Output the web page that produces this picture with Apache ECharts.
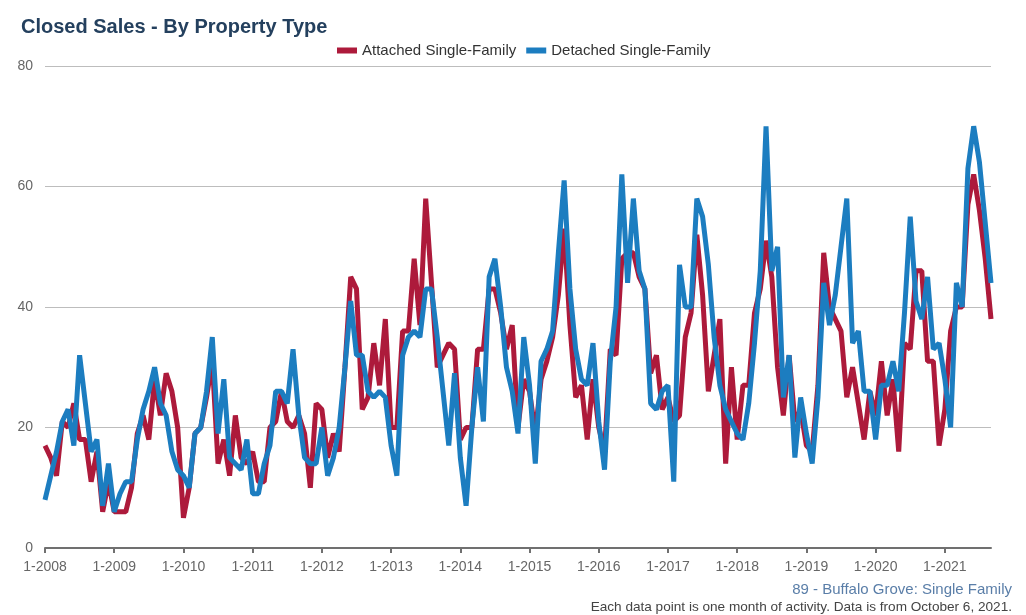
<!DOCTYPE html>
<html>
<head>
<meta charset="utf-8">
<title>Closed Sales - By Property Type</title>
<script src="https://cdn.jsdelivr.net/npm/echarts@6/dist/echarts.min.js"></script>
<style>
  html, body { margin: 0; padding: 0; background: #fff; }
  #chart { width: 1026px; height: 615px; }
</style>
</head>
<body>
<div id="chart"></div>
<script>
// monthly labels, Jan 2008 .. Sep 2021
var months = [];
for (var y = 2008; y <= 2021; y++) {
    for (var m = 1; m <= 12; m++) {
        if (y === 2021 && m > 9) break;
        months.push(m + '-' + y);
    }
}

// Attached Single-Family, one value per month
var attached = [
    17, 15, 12, 21, 20, 24, 18, 18, 11, 16, 6, 11,   // 2008
    6, 6, 6, 10, 19, 22, 18, 28, 22, 29, 26, 20,     // 2009
    5, 10, 19, 20, 25, 31, 14, 18, 12, 22, 15, 14,   // 2010
    16, 11, 11, 20, 21, 26, 21, 20, 22, 19, 10, 24,  // 2011
    23, 15, 19, 16, 30, 45, 43, 23, 25, 34, 27, 38,  // 2012
    20, 20, 36, 36, 48, 37, 58, 44, 30, 32, 34, 33,  // 2013
    18, 20, 20, 33, 33, 43, 43, 39, 33, 37, 20, 28,  // 2014
    26, 19, 28, 31, 35, 42, 53, 37, 25, 27, 18, 28,  // 2015
    20, 16, 33, 32, 48, 49, 49, 45, 43, 29, 32, 23,  // 2016
    25, 21, 22, 35, 39, 52, 42, 26, 32, 38, 14, 30,  // 2017
    18, 27, 27, 39, 43, 51, 45, 30, 22, 32, 21, 23,  // 2018
    17, 16, 27, 49, 40, 38, 36, 25, 30, 24, 18, 26,  // 2019
    22, 31, 22, 28, 16, 34, 33, 46, 46, 31, 31, 17,  // 2020
    23, 36, 40, 40, 57, 62, 56, 48, 38               // 2021
];

// Detached Single-Family
var detached = [
    8, 12, 16, 21, 23, 17, 32, 24, 16, 18, 7, 14,    // 2008
    6, 9, 11, 11, 18, 23, 26, 30, 24, 22, 16, 13,    // 2009
    12, 10, 19, 20, 26, 35, 19, 28, 15, 14, 13, 18,  // 2010
    9, 9, 14, 17, 26, 26, 24, 33, 22, 15, 14, 14,    // 2011
    20, 12, 15, 20, 30, 41, 32, 32, 26, 25, 26, 25,  // 2012
    17, 12, 32, 35, 36, 35, 43, 43, 35, 26, 17, 29,  // 2013
    15, 7, 20, 30, 21, 45, 48, 40, 30, 26, 19, 35,   // 2014
    27, 14, 31, 33, 36, 49, 61, 43, 33, 28, 27, 34,  // 2015
    21, 13, 31, 40, 62, 44, 58, 46, 43, 24, 23, 26,  // 2016
    27, 11, 47, 40, 40, 58, 55, 47, 35, 27, 23, 21,  // 2017
    19, 18, 24, 34, 46, 70, 46, 50, 25, 32, 15, 25,  // 2018
    19, 14, 25, 44, 37, 42, 50, 58, 34, 36, 26, 26,  // 2019
    18, 27, 27, 31, 26, 39, 55, 41, 38, 45, 33, 34,  // 2020
    28, 20, 44, 40, 63, 70, 64, 54, 44               // 2021
];

var yTicks = [0, 20, 40, 60, 80];

var chart = echarts.init(document.getElementById('chart'));

function isJanuary(idx) {
    return idx % 12 === 0;
}

var option = {
    animation: false,
    textStyle: { fontFamily: 'Liberation Sans, Arial, sans-serif' },
    color: ['#ad1a3b', '#1c7dc0'],
    title: [{
        text: 'Closed Sales - By Property Type',
        left: 16,
        top: 12,
        textStyle: { fontSize: 20, fontWeight: 'bold', color: '#24405e' }
    }, {
        text: '89 - Buffalo Grove: Single Family',
        right: 9,
        top: 577,
        textStyle: { fontSize: 15, fontWeight: 'normal', color: '#5a7ea8' }
    }, {
        text: 'Each data point is one month of activity. Data is from October 6, 2021.',
        right: 9,
        top: 595,
        textStyle: { fontSize: 13.6, fontWeight: 'normal', color: '#444' }
    }],
    legend: {
        top: 38,
        left: 332,
        itemWidth: 20,
        itemHeight: 6,
        itemGap: 10,
        icon: 'rect',
        textStyle: { fontSize: 15, color: '#333' },
        data: ['Attached Single-Family', 'Detached Single-Family']
    },
    grid: {
        left: 45,
        right: 35,
        top: 66,
        bottom: 67
    },
    xAxis: {
        type: 'category',
        boundaryGap: false,
        data: months,
        axisLine: { lineStyle: { color: '#707070', width: 2 } },
        axisTick: {
            interval: function (idx) { return isJanuary(idx); },
            length: 5,
            lineStyle: { color: '#707070', width: 2 }
        },
        axisLabel: {
            interval: function (idx) { return isJanuary(idx); },
            fontSize: 14,
            color: '#666',
            margin: 12
        }
    },
    yAxis: {
        type: 'value',
        min: yTicks[0],
        max: yTicks[yTicks.length - 1],
        interval: 20,
        axisLine: { show: false },
        axisTick: { show: false },
        axisLabel: { fontSize: 14, color: '#666', margin: 12 },
        splitLine: { lineStyle: { color: '#bdbdbd', width: 1 } }
    },
    series: [{
        name: 'Attached Single-Family',
        type: 'line',
        data: attached,
        showSymbol: false,
        lineStyle: { width: 5 },
        z: 2
    }, {
        name: 'Detached Single-Family',
        type: 'line',
        data: detached,
        showSymbol: false,
        lineStyle: { width: 5 },
        z: 3
    }]
};

chart.setOption(option);
</script>
</body>
</html>
